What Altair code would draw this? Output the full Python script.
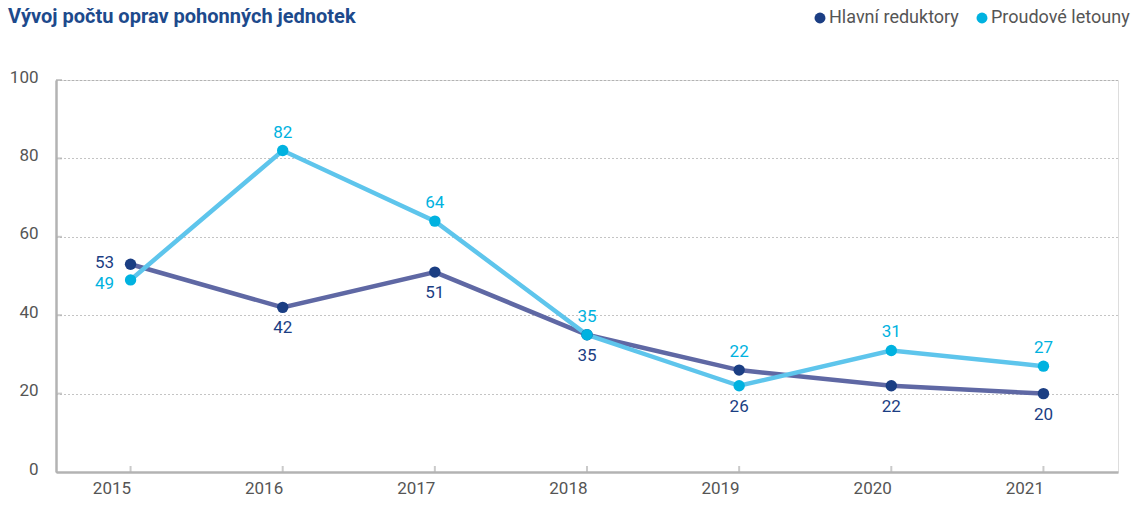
import altair as alt
import pandas as pd

years = ["2015", "2016", "2017", "2018", "2019", "2020", "2021"]
hlavni = [53, 42, 51, 35, 26, 22, 20]
proudove = [49, 82, 64, 35, 22, 31, 27]
series_names = ["Hlavní reduktory", "Proudové letouny"]
y_ticks = [20, 40, 60, 80, 100]

rows = []
for i, yr in enumerate(years):
    hi = max(hlavni[i], proudove[i])
    lo = min(hlavni[i], proudove[i])
    first = i == 0
    rows.append({"year": yr, "value": hlavni[i], "series": series_names[0],
                 "label_y": hlavni[i] if first else lo,
                 "pos": "leftup" if first else "below"})
    rows.append({"year": yr, "value": proudove[i], "series": series_names[1],
                 "label_y": proudove[i] if first else hi,
                 "pos": "leftdown" if first else "above"})
df = pd.DataFrame(rows)
tick_df = pd.DataFrame({"v": y_ticks})

DARK = "#1b3e83"
LIGHT = "#00b2e0"
DARK_LINE = "#5f68a4"
LIGHT_LINE = "#5ec5ec"
GREY = "#b3b3b3"
FONT = "Roboto"

x_scale = alt.Scale(type="point", domain=years, padding=0.49)
x_enc = alt.X("year:O", title=None, sort=years, scale=x_scale,
              axis=alt.Axis(labelAngle=0, ticks=False, labelPadding=16, labelFontSize=17,
                            labelColor="#555555", labelFont=FONT, domainColor=GREY,
                            domainWidth=2.5, grid=False))
y_scale = alt.Scale(domain=[0, 100])
y_axis = alt.Axis(values=[0, 20, 40, 60, 80, 100], ticks=False, labelPadding=18, labelFontSize=17,
                  labelColor="#555555", labelFont=FONT, domainColor=GREY, domainWidth=2.5,
                  grid=True, gridDash=[1, 3], gridColor="#888888", gridWidth=1, labelOffset=-3)

base = alt.Chart(df)
X = alt.X("year:O", sort=years, scale=x_scale)

lines = base.mark_line(strokeWidth=4.5).encode(
    x=x_enc,
    y=alt.Y("value:Q", title=None, scale=y_scale, axis=y_axis),
    color=alt.Color("series:N", scale=alt.Scale(domain=series_names, range=[DARK_LINE, LIGHT_LINE]),
                    legend=None),
)

points = base.mark_point(filled=True, size=130, opacity=1).encode(
    x=X,
    y=alt.Y("value:Q", scale=y_scale),
    color=alt.Color("series:N", scale=alt.Scale(domain=series_names, range=[DARK, LIGHT]),
                    legend=alt.Legend(title=None, orient="none", direction="horizontal",
                                      legendX=755, legendY=-71, symbolType="circle",
                                      symbolSize=120, labelFontSize=18, labelColor="#555555",
                                      labelFont=FONT, columnPadding=14, symbolOffset=0,
                                      labelOffset=0)),
)

txt_color = alt.Color("series:N", scale=alt.Scale(domain=series_names, range=[DARK, LIGHT]), legend=None)


def label_layer(pos, dx, dy):
    return base.transform_filter(alt.datum.pos == pos).mark_text(
        dx=dx, dy=dy, fontSize=17, font=FONT).encode(
        x=X, y=alt.Y("label_y:Q", scale=y_scale), text="value:Q", color=txt_color)


lbl_above = label_layer("above", 0, -18)
lbl_below = label_layer("below", 0, 21)
lbl_leftup = label_layer("leftup", -26, -1)
lbl_leftdown = label_layer("leftdown", -26, 4)

x_ticks = base.transform_filter(alt.datum.series == series_names[0]).mark_tick(
    orient="vertical", size=6, thickness=2, color=GREY, yOffset=-3).encode(
    x=X, y=alt.datum(0))

y_tick_marks = alt.Chart(tick_df).mark_tick(
    orient="horizontal", size=6, thickness=2, color=GREY).encode(
    y=alt.Y("v:Q", scale=y_scale), x=alt.value(3))

chart = alt.layer(x_ticks, y_tick_marks, lines, points, lbl_above, lbl_below,
                  lbl_leftup, lbl_leftdown).resolve_scale(
    color="independent"
).properties(
    width=1062, height=392,
    autosize=alt.AutoSizeParams(type="none"),
    padding={"left": 56, "top": 80, "right": 19, "bottom": 34},
    title=alt.TitleParams("Vývoj počtu oprav pohonných jednotek", anchor="start", frame="group",
                          dx=-48, offset=-17, dy=17, baseline="alphabetic", fontSize=20,
                          fontWeight="bold", font=FONT, color="#1d4a8c"),
).configure_view(stroke=None).configure(background="white")

chart.save("out.html", embed_options={"renderer": "svg", "actions": False})
